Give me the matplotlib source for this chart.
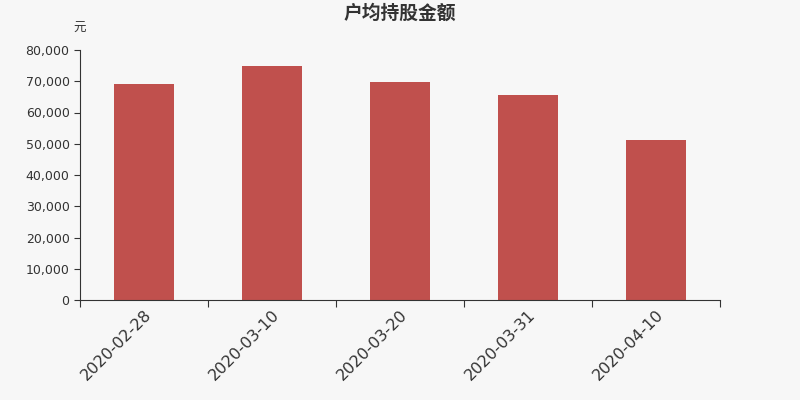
import matplotlib.pyplot as plt
from matplotlib.ticker import FuncFormatter

plt.rcParams['font.family'] = ['DejaVu Sans', 'Noto Sans CJK SC']

dates = ['2020-02-28', '2020-03-10', '2020-03-20', '2020-03-31', '2020-04-10']
values = [69100, 74900, 69700, 65600, 51100]

bg = '#f7f7f7'
fig = plt.figure(figsize=(8, 4), dpi=100, facecolor=bg)
ax = fig.add_axes([0.1, 0.25, 0.8, 0.625], facecolor=bg)

x = list(range(len(dates)))
ax.bar(x, values, width=0.47, color='#c0504d', zorder=2)

ax.set_xlim(-0.5, len(dates) - 0.5)
ax.set_ylim(0, 80000)
ax.set_yticks(range(0, 80001, 10000))
ax.yaxis.set_major_formatter(FuncFormatter(lambda v, p: f'{int(v):,}'))

# category boundaries as ticks, labels at category centres
ax.set_xticks([i - 0.5 for i in range(len(dates) + 1)])
ax.set_xticklabels([])
ax.set_xticks(x, minor=True)
ax.set_xticklabels(dates, minor=True, rotation=45, ha='right', va='top',
                   rotation_mode='anchor', fontsize=11.5, color='#333333')
ax.tick_params(axis='x', which='minor', length=0, pad=5)
ax.tick_params(axis='x', which='major', length=5, color='#333333')
ax.tick_params(axis='y', length=4, color='#333333', labelsize=9, labelcolor='#333333')

for s in ['top', 'right']:
    ax.spines[s].set_visible(False)
for s in ['left', 'bottom']:
    ax.spines[s].set_color('#333333')

fig.text(0.5, 0.966, '户均持股金额', ha='center', va='center',
         fontsize=13.5, fontweight='bold', color='#333333',
         family=['Noto Sans CJK SC', 'DejaVu Sans'])
fig.text(0.099, 0.93, '元', ha='center', va='center', fontsize=9, color='#333333',
         family=['Noto Sans CJK SC', 'DejaVu Sans'])

fig.savefig('out.png', dpi=100, facecolor=bg)
